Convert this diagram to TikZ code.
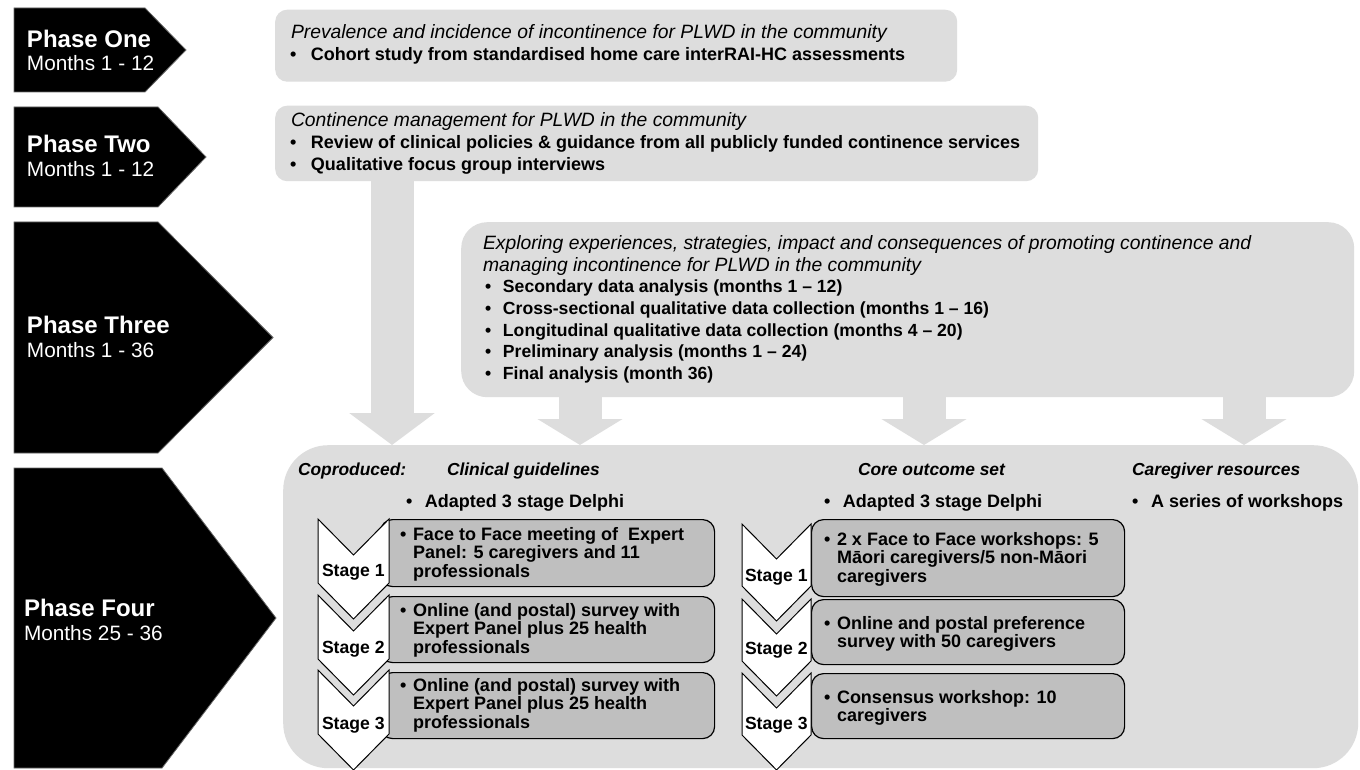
\documentclass[tikz,border=0pt]{standalone}
\usepackage{fontspec}
\setmainfont{Liberation Sans}
\usetikzlibrary{arrows.meta}
\definecolor{lightbox}{HTML}{DDDDDD}
\definecolor{stagefill}{HTML}{BFBFBF}
\newcommand{\bul}[1]{\makebox[#1][l]{\textbullet}}
\newcommand{\fs}[1]{\fontsize{#1}{#1}\selectfont}
\begin{document}
\begin{tikzpicture}[x=1pt,y=-1pt,
  txt/.style={anchor=base west, inner sep=0pt, outer sep=0pt},
  ml/.style={anchor=north west, inner sep=0pt, outer sep=0pt, align=left},
  phase/.style={fill=black, draw=black!60, line width=0.8pt},
  bigbox/.style={fill=lightbox, draw=none, anchor=north west, inner sep=0pt},
  stagebx/.style={fill=stagefill, draw=black, line width=1.2pt, rounded corners=12pt, anchor=north west, inner sep=0pt},
  chev/.style={fill=white, draw=black, line width=1pt, line join=miter},
  blockarrow/.style={draw=lightbox, line width=43pt, line cap=butt, -{Triangle[width=84pt,length=#1]}},
  phtitle/.style={txt, text=white, font=\bfseries\fs{24}},
  phmonth/.style={txt, text=white, font=\fs{20.8}},
  hdit/.style={txt, font=\itshape\fs{19.3}},
  bltxt/.style={txt, font=\bfseries\fs{18}},
  p4head/.style={txt, font=\bfseries\itshape\fs{17.4}},
  stlabel/.style={txt, font=\bfseries\fs{17.6}},
  stagetxt/.style={ml, font=\bfseries\fontsize{18}{18.6}\selectfont},
]
\useasboundingbox (0,0) rectangle (1360,770);
\fill[white] (0,0) rectangle (1360,770);

% phase pentagons
\draw[phase] (14,8) -- (145,8) -- (186,50) -- (145,92) -- (14,92) -- cycle;
\draw[phase] (14,107) -- (158,107) -- (206,157) -- (158,207) -- (14,207) -- cycle;
\draw[phase] (14,222) -- (158,222) -- (273,337.5) -- (158,453) -- (14,453) -- cycle;
\draw[phase] (14,468) -- (162,468) -- (276,618) -- (162,768) -- (14,768) -- cycle;

\node[phtitle] (ph1) at (27,47.5) {Phase One};
\node[phmonth] (ph1m) at (27,71) {Months 1 - 12};
\node[phtitle] (ph2) at (27,153) {Phase Two};
\node[phmonth] (ph2m) at (27,177) {Months 1 - 12};
\node[phtitle] (ph3) at (27,333) {Phase Three};
\node[phmonth] (ph3m) at (27,357) {Months 1 - 36};
\node[phtitle] (ph4) at (24,616) {Phase Four};
\node[phmonth] (ph4m) at (24,640) {Months 25 - 36};

% big boxes
\node[bigbox, rounded corners=12pt, minimum width=682pt, minimum height=72pt] (p1box) at (275,9.5) {};
\node[bigbox, rounded corners=12pt, minimum width=763pt, minimum height=75.5pt] (p2box) at (275,105.5) {};
\node[bigbox, rounded corners=26pt, minimum width=893pt, minimum height=175pt] (p3box) at (461,222) {};
\node[bigbox, rounded corners=45pt, minimum width=1075pt, minimum height=323pt] (p4box) at (283,445) {};

% block arrows
\draw[blockarrow=32pt] ([xshift=117pt]p2box.south west) -- ([xshift=109pt]p4box.north west);
\draw[blockarrow=26pt] ([xshift=119pt]p3box.south west) -- ([xshift=297pt]p4box.north west);
\draw[blockarrow=26pt] ([xshift=463pt]p3box.south west) -- ([xshift=641pt]p4box.north west);
\draw[blockarrow=26pt] ([xshift=783pt]p3box.south west) -- ([xshift=961pt]p4box.north west);

% phase one text
\node[hdit] (t1a) at (291,38.3) {Prevalence and incidence of incontinence for PLWD in the community};
\node[bltxt] (t1b) at (290,60.7) {\bul{21pt}Cohort study from standardised home care interRAI-HC assessments};

% phase two text
\node[hdit] (t2a) at (291,126.7) {Continence management for PLWD in the community};
\node[bltxt] (t2b) at (290,148.5) {\bul{21pt}Review of clinical policies \& guidance from all publicly funded continence services};
\node[bltxt] (t2c) at (290,170.7) {\bul{21pt}Qualitative focus group interviews};

% phase three text
\node[hdit] (t3a) at (483,250) {Exploring experiences, strategies, impact and consequences of promoting continence and};
\node[hdit] (t3b) at (483,271) {managing incontinence for PLWD in the community};
\node[bltxt, font=\bfseries\fs{17.6}] (t3c) at (485,292.7) {\bul{18pt}Secondary data analysis (months 1 – 12)};
\node[bltxt, font=\bfseries\fs{17.6}] (t3d) at (485,314.3) {\bul{18pt}Cross-sectional qualitative data collection (months 1 – 16)};
\node[bltxt, font=\bfseries\fs{17.6}] (t3e) at (485,336) {\bul{18pt}Longitudinal qualitative data collection (months 4 – 20)};
\node[bltxt, font=\bfseries\fs{17.6}] (t3f) at (485,357.3) {\bul{18pt}Preliminary analysis (months 1 – 24)};
\node[bltxt, font=\bfseries\fs{17.6}] (t3g) at (485,379) {\bul{18pt}Final analysis (month 36)};

% phase four headings
\node[p4head] (cop) at (298,475) {Coproduced:};
\node[p4head] (clin) at (447,475) {Clinical guidelines};
\node[p4head] (core) at (858,475) {Core outcome set};
\node[p4head] (care) at (1132,475) {Caregiver resources};
\node[bltxt] (d1) at (406,507) {\bul{19pt}Adapted 3 stage Delphi};
\node[bltxt] (d2) at (824,507) {\bul{19pt}Adapted 3 stage Delphi};
\node[bltxt] (d3) at (1132,507) {\bul{19pt}A series of workshops};

% left stage boxes
\node[stagebx, minimum width=334pt, minimum height=67pt] (ls1) at (380,519) {};
\node[stagebx, minimum width=334pt, minimum height=66pt] (ls2) at (380,596) {};
\node[stagebx, minimum width=334pt, minimum height=66pt] (ls3) at (380,672) {};
% left chevrons
\draw[chev] (318,519) -- (353.5,555) -- (389,519) -- (389,583) -- (353.5,619) -- (318,583) -- cycle;
\draw[chev] (318,595) -- (353.5,631) -- (389,595) -- (389,659) -- (353.5,695) -- (318,659) -- cycle;
\draw[chev] (318,670) -- (353.5,706) -- (389,670) -- (389,734) -- (353.5,770) -- (318,734) -- cycle;
\node[stlabel] (lst1) at (322,576) {Stage 1};
\node[stlabel] (lst2) at (322,653) {Stage 2};
\node[stlabel] (lst3) at (322,729) {Stage 3};

\node[stagetxt] (lt1) at (400,527) {\bul{13pt}Face to Face meeting of~~Expert\\\hspace*{13pt}Panel: 5 caregivers and 11\\\hspace*{13pt}professionals};
\node[stagetxt] (lt2) at (400,603) {\bul{13pt}Online (and postal) survey with\\\hspace*{13pt}Expert Panel plus 25 health\\\hspace*{13pt}professionals};
\node[stagetxt] (lt3) at (400,678) {\bul{13pt}Online (and postal) survey with\\\hspace*{13pt}Expert Panel plus 25 health\\\hspace*{13pt}professionals};

% right stage boxes
\node[stagebx, minimum width=313pt, minimum height=77pt] (rs1) at (811,519) {};
\node[stagebx, minimum width=313pt, minimum height=65pt] (rs2) at (811,599) {};
\node[stagebx, minimum width=313pt, minimum height=65pt] (rs3) at (811,673) {};
% right chevrons
\draw[chev] (742,524) -- (776.5,559) -- (811,524) -- (811,586) -- (776.5,621) -- (742,586) -- cycle;
\draw[chev] (742,599) -- (776.5,634) -- (811,599) -- (811,661) -- (776.5,696) -- (742,661) -- cycle;
\draw[chev] (742,673) -- (776.5,708) -- (811,673) -- (811,735) -- (776.5,770) -- (742,735) -- cycle;
\node[stlabel] (rst1) at (745,581) {Stage 1};
\node[stlabel] (rst2) at (745,654) {Stage 2};
\node[stlabel] (rst3) at (745,729) {Stage 3};

\node[stagetxt] (rt1) at (824,532) {\bul{13pt}2 x Face to Face workshops: 5\\\hspace*{13pt}Māori caregivers/5 non-Māori\\\hspace*{13pt}caregivers};
\node[stagetxt] (rt2) at (824,616) {\bul{13pt}Online and postal preference\\\hspace*{13pt}survey with 50 caregivers};
\node[stagetxt] (rt3) at (824,690) {\bul{13pt}Consensus workshop: 10\\\hspace*{13pt}caregivers};
\end{tikzpicture}
\end{document}
